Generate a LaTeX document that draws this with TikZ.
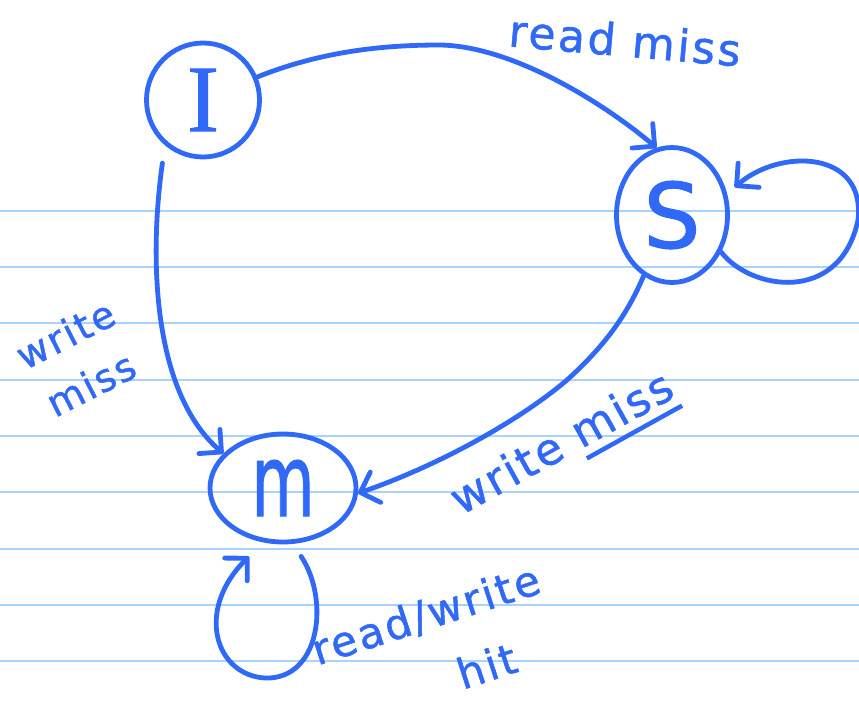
\documentclass[tikz,border=0pt]{standalone}
\usepackage{fontspec}
\setmainfont{DejaVu Sans}
\newfontfamily\handfont[LetterSpace=6,FakeBold=1.2]{DejaVu Sans}
\newfontfamily\serifletter[FakeBold=1.2]{Liberation Serif}
\newfontfamily\stateletter[FakeBold=1.2]{DejaVu Sans}
\usetikzlibrary{arrows.meta,shapes.geometric}
\definecolor{ink}{RGB}{48,104,248}
\definecolor{ruling}{RGB}{170,210,250}
\newcommand\thickul[1]{\setbox0=\hbox{#1}\rlap{\rule[-0.3em]{\wd0}{4.5pt}}\box0}
\begin{document}
\begin{tikzpicture}[x=1pt,y=-1pt,
  state/.style={draw=ink, line width=4.8pt, ellipse, inner sep=0pt, text=ink},
  edge/.style={draw=ink, line width=4.8pt, line cap=round, line join=round,
    -{Straight Barb[length=16pt,width=32pt,round]}},
  lab/.style={text=ink, inner sep=0pt, align=center},
  ruled/.style={draw=ruling, line width=2pt}]
\useasboundingbox (0,0) rectangle (859,705);
\fill[white] (0,0) rectangle (859,705);
\foreach \k in {0,...,8} \draw[ruled] (0,{210.7+56.3*\k}) -- (859,{210.7+56.3*\k});

% states
\node[state, minimum width=113pt, minimum height=114pt,
  font=\serifletter\fontsize{95}{95}\selectfont] (I) at (203,100) {I};
\node[state, minimum width=111pt, minimum height=135pt,
  font=\stateletter\fontsize{90}{90}\selectfont] (S) at (672,215) {S};
\node[state, minimum width=146pt, minimum height=108pt,
  font=\stateletter\fontsize{100}{100}\selectfont] (M) at (283,488) {\scalebox{0.65}[1]{m}};

% transitions
\draw[edge] (I.23) .. controls (320,52) and (380,45) .. (440,45)
  .. controls (510,46) and (600,100) .. (S.103);
\draw[edge, shorten <=18pt] (I.230) .. controls (150,250) and (150,390) .. (M.150);
\draw[edge] (S.245) .. controls (625,320) and (600,350) .. (567,380)
  .. controls (520,420) and (440,465) .. (M.-4);
\draw[edge, shorten >=10pt] (S.-37) .. controls (750,290) and (840,305) .. (858,220)
  .. controls (866,150) and (780,148) .. (S.21);
\draw[edge, shorten <=15pt, shorten >=20pt] (M.-80) .. controls (330,600) and (320,680) .. (265,678)
  .. controls (215,675) and (195,610) .. (M.250);

% labels
\node[lab, rotate=-5, font=\handfont\fontsize{44}{56}\selectfont] (rm) at (625,40) {read miss};
\node[lab, rotate=27, font=\handfont\fontsize{38}{56}\selectfont] (wm1) at (78,359) {write\\miss};
\node[lab, rotate=29, font=\handfont\fontsize{44}{56}\selectfont] (wm2) at (564,447) {write \thickul{miss}};
\node[lab, rotate=18, font=\handfont\fontsize{42}{68}\selectfont] (rwh) at (436,646) {read/write\\\hspace*{84pt}hit};
\end{tikzpicture}
\end{document}
